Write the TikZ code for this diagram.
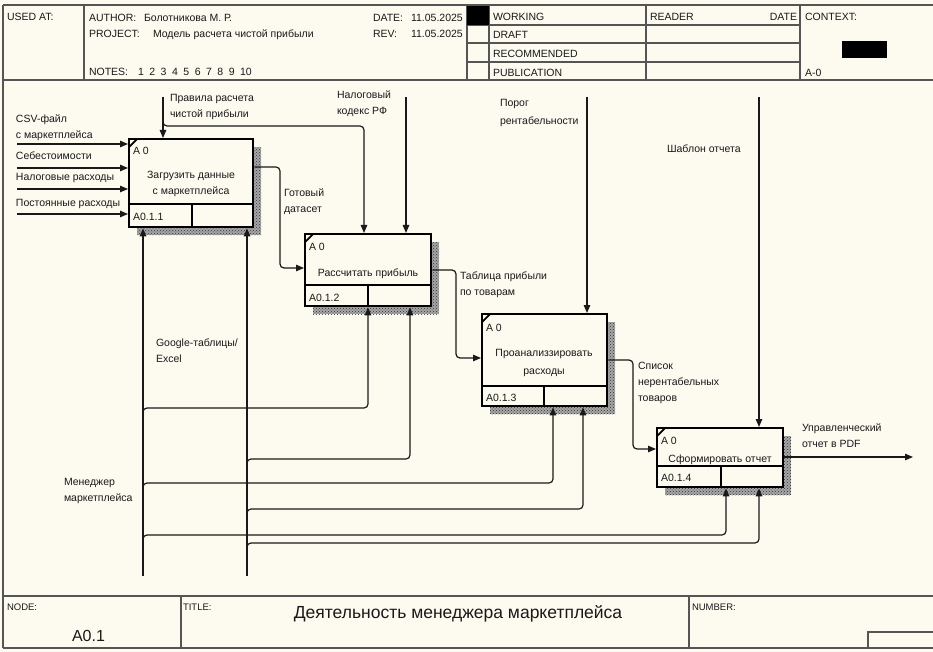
\documentclass[tikz,border=0pt]{standalone}
\usepackage{fontspec}
\setmainfont{Liberation Sans}
\usetikzlibrary{arrows.meta,calc,patterns,shadows}
\definecolor{paper}{RGB}{253,250,240}
\definecolor{ink}{RGB}{25,25,25}
\definecolor{rulegray}{RGB}{85,85,85}
\begin{document}
\begin{tikzpicture}[x=1pt,y=-1pt,
  every node/.style={inner sep=0pt, outer sep=0pt, text=ink, font=\fontsize{10.5}{16}\selectfont},
  txt/.style={anchor=base west, align=left},
  ctxt/.style={anchor=base, align=center},
  arr/.style={draw=ink, line width=1.2pt, rounded corners=4pt, -{Triangle[length=8pt,width=6.5pt]}},
  frameline/.style={draw=rulegray, line width=1.4pt},
  activity/.style={draw=black, line width=2.4pt, fill=paper, anchor=north west, outer sep=1.2pt,
     general shadow={shadow xshift=8pt, shadow yshift=-8pt, fill=black!35},
     general shadow={shadow xshift=8pt, shadow yshift=-8pt, pattern=crosshatch dots, pattern color=black!80}},
  divider/.style={draw=black, line width=2.4pt},
  tick/.style={draw=black, line width=1.8pt},
  small/.style={font=\fontsize{9.5}{12}\selectfont},
]
% sheet
\fill[paper] (0,0) rectangle (933,652);
\useasboundingbox (0,0) rectangle (933,652);

% ---------- header ----------
\draw[frameline] (3,5) -- (933,5);
\draw[frameline] (3,80) -- (933,80);
\draw[frameline] (3,5) -- (3,648);
\foreach \xx in {84,467,489,646,800} \draw[frameline] (\xx,5) -- (\xx,80);
\foreach \yy in {25,43,62} \draw[frameline] (467,\yy) -- (800,\yy);
\fill[black] (467,6) rectangle (489,25);
\fill[black] (842,41) rectangle (887,58);

\node[txt] (usedat) at (7,21) {USED AT:};
\node[txt] (author) at (89,22) {AUTHOR:};
\node[txt] (authorv) at (144,22) {Болотникова М. Р.};
\node[txt] (project) at (89,38) {PROJECT:};
\node[txt] (projectv) at (153,38) {Модель расчета чистой прибыли};
\node[txt] (notes) at (89,76) {NOTES:};
\foreach \n [count=\i] in {1,...,10} \node[txt] (note\n) at ({138+(\i-1)*11.35},76) {\n};
\node[txt] (date) at (373,22) {DATE:};
\node[txt] (datev) at (411,22) {11.05.2025};
\node[txt] (rev) at (373,38) {REV:};
\node[txt] (revv) at (411,38) {11.05.2025};

\node[txt] (working) at (493,21) {WORKING};
\node[txt] (draft) at (493,39) {DRAFT};
\node[txt] (recommended) at (493,58) {RECOMMENDED};
\node[txt] (publication) at (493,77) {PUBLICATION};
\node[txt] (reader) at (650,21) {READER};
\node[anchor=base east] (readerdate) at (797,21) {DATE};
\node[txt] (context) at (805,21) {CONTEXT:};
\node[txt] (ctxnode) at (805,77) {A-0};

% ---------- footer ----------
\draw[frameline] (3,596) -- (933,596);
\draw[frameline] (3,648) -- (933,648);
\draw[frameline] (181,596) -- (181,648);
\draw[frameline] (689,596) -- (689,648);
\draw[frameline] (868,648) -- (868,632) -- (933,632);
\node[txt, small] (nodelbl) at (7,610) {NODE:};
\node[txt, font=\fontsize{16}{18}\selectfont] (nodev) at (72,641) {A0.1};
\node[txt, small] (titlelbl) at (183,610) {TITLE:};
\node[ctxt, font=\fontsize{17.5}{20}\selectfont] (titlev) at (458,618) {Деятельность менеджера маркетплейса};
\node[txt, small] (numberlbl) at (692,610) {NUMBER:};

% ---------- activities ----------
\node[activity, minimum width=124pt, minimum height=88pt] (b1) at (128,138) {};
\node[activity, minimum width=126pt, minimum height=72pt] (b2) at (304,233) {};
\node[activity, minimum width=125pt, minimum height=92pt] (b3) at (481,313) {};
\node[activity, minimum width=126pt, minimum height=59pt] (b4) at (656,427) {};

\draw[divider] (129,204) -- (253,204) (192,204) -- (192,227);
\draw[divider] (305,285) -- (431,285) (368,285) -- (368,306);
\draw[divider] (482,386) -- (607,386) (544,386) -- (544,406);
\draw[divider] (657,466) -- (783,466) (721,466) -- (721,487);
\foreach \b in {b1,b2,b3,b4}
  \draw[tick] ($(\b.north west)+(1.2,9)$) -- ($(\b.north west)+(9,1.2)$);

% multi-line labels are placed by the baseline of their last line
\node[txt] (b1a) at (133,155) {A 0};
\node[ctxt] (b1n) at (191,195) {Загрузить данные\\с маркетплейса};
\node[txt] (b1c) at (133,221) {A0.1.1};
\node[txt] (b2a) at (309,251) {A 0};
\node[ctxt] (b2n) at (368,276) {Рассчитать прибыль};
\node[txt] (b2c) at (309,301) {A0.1.2};
\node[txt] (b3a) at (486,331) {A 0};
\node[ctxt, font=\fontsize{10.5}{18}\selectfont] (b3n) at (544,374) {Проанализзировать\\расходы};
\node[txt] (b3c) at (486,401) {A0.1.3};
\node[txt] (b4a) at (661,444) {A 0};
\node[ctxt] (b4n) at (720,462) {Сформировать отчет};
\node[txt] (b4c) at (661,481) {A0.1.4};

% ---------- inputs ----------
\coordinate (csv) at (17,144);
\coordinate (cost) at (17,168);
\coordinate (taxexp) at (17,189);
\coordinate (fixed) at (17,214);
\foreach \c in {csv,cost,taxexp,fixed} \draw[arr] (\c) -- (\c -| b1.west);
\node[txt] (csvl) at (16,139) {CSV-файл\\с маркетплейса};
\node[txt] (costl) at (16,160) {Себестоимости};
\node[txt] (taxexpl) at (16,181) {Налоговые расходы};
\node[txt] (fixedl) at (16,207) {Постоянные расходы};

% ---------- controls ----------
\coordinate (rules) at (163,97);
\coordinate (rulesj) at (163,118);
\coordinate (rulesb) at (364,126);
\draw[arr] (rules) -- (rules |- b1.north);
\draw[arr] (rulesj) -- (rulesj |- rulesb) -- (rulesb) -- (rulesb |- b2.north);
\node[txt] (rulesl) at (170,118) {Правила расчета\\чистой прибыли};

\coordinate (taxcode) at (406,97);
\draw[arr] (taxcode) -- (taxcode |- b2.north);
\node[txt] (taxcodel) at (337,115) {Налоговый\\кодекс РФ};

\coordinate (margin) at (587,97);
\draw[arr] (margin) -- (margin |- b3.north);
\node[txt, font=\fontsize{10.5}{18}\selectfont] (marginl) at (500,125) {Порог\\рентабельности};

\coordinate (tmpl) at (759,97);
\draw[arr] (tmpl) -- (tmpl |- b4.north);
\node[txt] (tmpll) at (667,153) {Шаблон отчета};

% ---------- outputs ----------
\coordinate (dsbend) at (280,268);
\draw[arr] ($(b1.north east)+(0,29)$) -| (dsbend) -- (dsbend -| b2.west);
\node[txt, font=\fontsize{10.5}{17}\selectfont] (dsl) at (284,213) {Готовый\\датасет};

\coordinate (tblbend) at (456,358);
\draw[arr] ($(b2.north east)+(0,37)$) -| (tblbend) -- (tblbend -| b3.west);
\node[txt] (tbll) at (460,295) {Таблица прибыли\\по товарам};

\coordinate (lossbend) at (633,449);
\draw[arr] ($(b3.north east)+(0,47)$) -| (lossbend) -- (lossbend -| b4.west);
\node[txt] (lossl) at (638,401) {Список\\нерентабельных\\товаров};

\coordinate (report) at (913,457);
\draw[arr] (report -| b4.east) -- (report);
\node[txt] (reportl) at (802,447) {Управленческий\\отчет в PDF};

% ---------- mechanisms ----------
\coordinate (mgr) at (143,576);
\coordinate (sheets) at (247,576);
\draw[arr] (mgr) -- (mgr |- b1.south);
\draw[arr] (sheets) -- (sheets |- b1.south);
\coordinate (mgr2) at (368,408);
\coordinate (mgr3) at (553,483);
\coordinate (mgr4) at (726,535);
\coordinate (sh2) at (410,459);
\coordinate (sh3) at (583,509);
\coordinate (sh4) at (759,543);
\draw[arr] ($(mgr2 -| mgr)+(0,6)$) -- (mgr2 -| mgr) -- (mgr2) -- (mgr2 |- b2.south);
\draw[arr] ($(mgr3 -| mgr)+(0,6)$) -- (mgr3 -| mgr) -- (mgr3) -- (mgr3 |- b3.south);
\draw[arr] ($(mgr4 -| mgr)+(0,6)$) -- (mgr4 -| mgr) -- (mgr4) -- (mgr4 |- b4.south);
\draw[arr] ($(sh2 -| sheets)+(0,6)$) -- (sh2 -| sheets) -- (sh2) -- (sh2 |- b2.south);
\draw[arr] ($(sh3 -| sheets)+(0,6)$) -- (sh3 -| sheets) -- (sh3) -- (sh3 |- b3.south);
\draw[arr] ($(sh4 -| sheets)+(0,6)$) -- (sh4 -| sheets) -- (sh4) -- (sh4 |- b4.south);
\node[txt] (sheetsl) at (156,362) {Google-таблицы/\\Excel};
\node[txt] (mgrl) at (64,501) {Менеджер\\маркетплейса};
\end{tikzpicture}
\end{document}
